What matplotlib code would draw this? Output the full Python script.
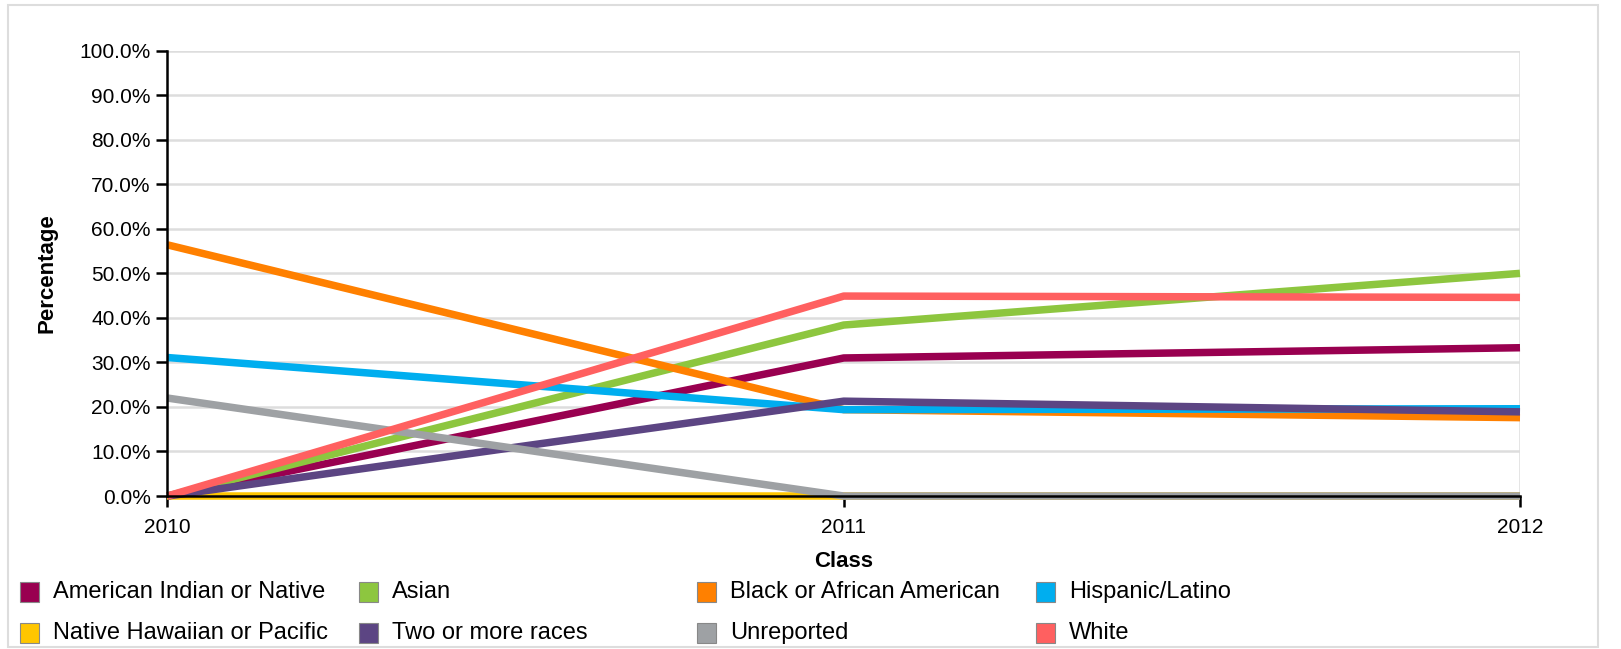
import matplotlib
matplotlib.use('Agg')
from matplotlib import pyplot as plt
from matplotlib.patches import Rectangle
from matplotlib.ticker import FuncFormatter

plt.rcParams['font.family'] = ['Liberation Sans', 'DejaVu Sans']

years = [2010, 2011, 2012]

american_indian = [0.0, 31.0, 33.3]
asian = [0.0, 38.4, 50.0]
black = [56.4, 19.4, 17.6]
hispanic = [31.1, 19.4, 19.6]
native_hawaiian = [0.0, 0.0, 0.0]
two_or_more = [0.0, 21.3, 18.9]
unreported = [22.0, 0.0, 0.0]
white = [0.0, 44.9, 44.6]

series_names = [
    'American Indian or Native',
    'Asian',
    'Black or African American',
    'Hispanic/Latino',
    'Native Hawaiian or Pacific',
    'Two or more races',
    'Unreported',
    'White',
]
series_values = [
    american_indian, asian, black, hispanic,
    native_hawaiian, two_or_more, unreported, white,
]
colors = [
    '#990050', '#8DC63F', '#FF8000', '#00AEEF',
    '#FFC600', '#5C4583', '#9EA1A4', '#FF6060',
]

fig = plt.figure(figsize=(16.21, 6.49), dpi=100)
ax = fig.add_axes([0.1033, 0.2357, 0.8344, 0.6862])

# outer frame
fig.patches.append(Rectangle((0.005, 0.003), 0.981, 0.99, transform=fig.transFigure,
                             fill=False, edgecolor='#DDDDDD', linewidth=1.5))

for name, vals, c in zip(series_names, series_values, colors):
    ax.plot(years, vals, color=c, linewidth=5.4, clip_on=False,
            solid_capstyle='butt', label=name)

ax.set_xlim(2010, 2012)
ax.set_ylim(0, 100)
ax.set_xticks(years)
ax.set_xticklabels([str(y) for y in years])
ax.set_yticks(range(0, 101, 10))
ax.yaxis.set_major_formatter(FuncFormatter(lambda v, p: f'{v:.1f}%'))
ax.grid(axis='y', color='#DDDDDD', linewidth=1.8)
ax.axvline(2012, color='#DDDDDD', linewidth=1.8, zorder=0)
ax.set_axisbelow(True)

for s in ['top', 'right']:
    ax.spines[s].set_visible(False)
ax.spines['left'].set_linewidth(1.8)
ax.spines['bottom'].set_linewidth(1.8)
ax.spines['bottom'].set_zorder(5)
ax.tick_params(axis='both', length=8, width=1.8, labelsize=15, colors='black')
ax.tick_params(axis='y', pad=4)
ax.tick_params(axis='x', pad=8)

ax.set_ylabel('Percentage', fontsize=16, fontweight='bold', labelpad=16)
ax.set_xlabel('Class', fontsize=16, fontweight='bold', labelpad=10)

# legend laid out in 4 uneven columns, 2 rows
col_x = [0.0123, 0.2215, 0.430, 0.639]
row_y = [0.0883, 0.0246]
for i, (name, c) in enumerate(zip(series_names, colors)):
    cx = col_x[i % 4]
    ry = row_y[i // 4]
    fig.patches.append(Rectangle((cx, ry - 0.0155), 0.0117, 0.031, transform=fig.transFigure,
                                 facecolor=c, edgecolor='#888888', linewidth=0.8))
    fig.text(cx + 0.0205, ry, name, fontsize=17, va='center', ha='left')

fig.savefig('out.png', dpi=100)
